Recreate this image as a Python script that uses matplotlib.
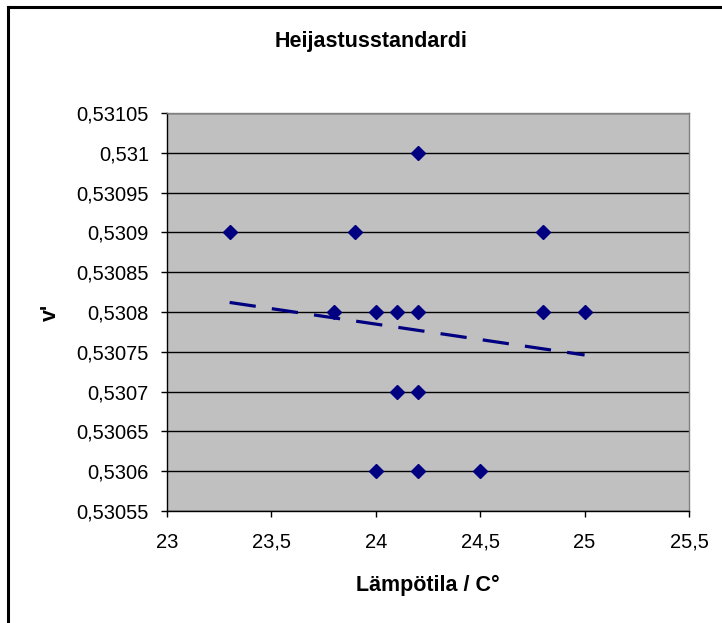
import matplotlib
matplotlib.use("Agg")
import matplotlib.pyplot as plt
from matplotlib.lines import Line2D
from matplotlib.ticker import FuncFormatter, MultipleLocator

plt.rcParams['font.family'] = ['Liberation Sans', 'DejaVu Sans']
plt.rcParams['lines.scale_dashes'] = False

# Measured temperatures (°C) and v' values
temperature = [23.3, 23.8, 23.9, 24.0, 24.0, 24.1, 24.1, 24.2, 24.2, 24.2, 24.2, 24.5, 24.8, 24.8, 25.0]
v_prime = [0.5309, 0.5308, 0.5309, 0.5308, 0.5306, 0.5308, 0.5307, 0.5310, 0.5308, 0.5307, 0.5306,
           0.5306, 0.5309, 0.5308, 0.5308]

# Linear trendline end points
trend_x = [23.3, 25.0]
trend_y = [0.530812, 0.530746]

title = "Heijastusstandardi"
x_label = "Lämpötila / C°"
y_label = "v'"

W, H = 722, 623
fig = plt.figure(figsize=(W / 100, H / 100), dpi=100)
fig.patch.set_facecolor('white')

left, right, top, bottom = 167, 689, 113, 511
ax = fig.add_axes([left / W, 1 - bottom / H, (right - left) / W, (bottom - top) / H])
ax.set_facecolor('#C0C0C0')

navy = '#000080'
ax.plot(trend_x, trend_y, color=navy, linewidth=2.3, linestyle=(0, (19, 11.7)), zorder=3)
ax.plot(temperature, v_prime, linestyle='none', marker='D', markersize=6.8,
        color=navy, markeredgecolor=navy, zorder=4)

ax.set_xlim(23, 25.5)
ax.set_ylim(0.53055, 0.53105)
ax.xaxis.set_major_locator(MultipleLocator(0.5))
ax.yaxis.set_major_locator(MultipleLocator(0.00005))


def comma_fmt(v, pos, nd):
    s = f"{v:.{nd}f}".rstrip('0').rstrip('.')
    return s.replace('.', ',')


ax.xaxis.set_major_formatter(FuncFormatter(lambda v, p: comma_fmt(v, p, 1)))
ax.yaxis.set_major_formatter(FuncFormatter(lambda v, p: comma_fmt(v, p, 5)))

ax.grid(axis='y', color='black', linewidth=1.0)
ax.grid(axis='x', visible=False)
ax.set_axisbelow(True)

for side in ('left', 'bottom'):
    ax.spines[side].set_color('black')
    ax.spines[side].set_linewidth(1.0)
for side in ('top', 'right'):
    ax.spines[side].set_color('#808080')
    ax.spines[side].set_linewidth(1.0)

ax.tick_params(axis='both', direction='out', length=4.5, width=1.0, colors='black',
               labelsize=14.5)
ax.tick_params(axis='y', pad=8.5)
ax.tick_params(axis='x', pad=11)

fig.text(371 / W, 1 - 41 / H, title, ha='center', va='center', fontsize=15.5,
         fontweight='bold')
fig.text(428 / W, 1 - 585 / H, x_label, ha='center', va='center', fontsize=15.5,
         fontweight='bold')
fig.text(50 / W, 1 - 312 / H, y_label, ha='center', va='center', fontsize=15.5,
         fontweight='bold', rotation=90)

# Chart-area frame (left and top edges)
fig.add_artist(Line2D([8 / W, 8 / W], [0, 1 - 7 / H], color='black', linewidth=2.2,
                      transform=fig.transFigure, solid_capstyle='projecting'))
fig.add_artist(Line2D([8 / W, 1], [1 - 7 / H, 1 - 7 / H], color='black', linewidth=2.2,
                      transform=fig.transFigure, solid_capstyle='projecting'))

fig.savefig('out.png', dpi=100, facecolor='white')
